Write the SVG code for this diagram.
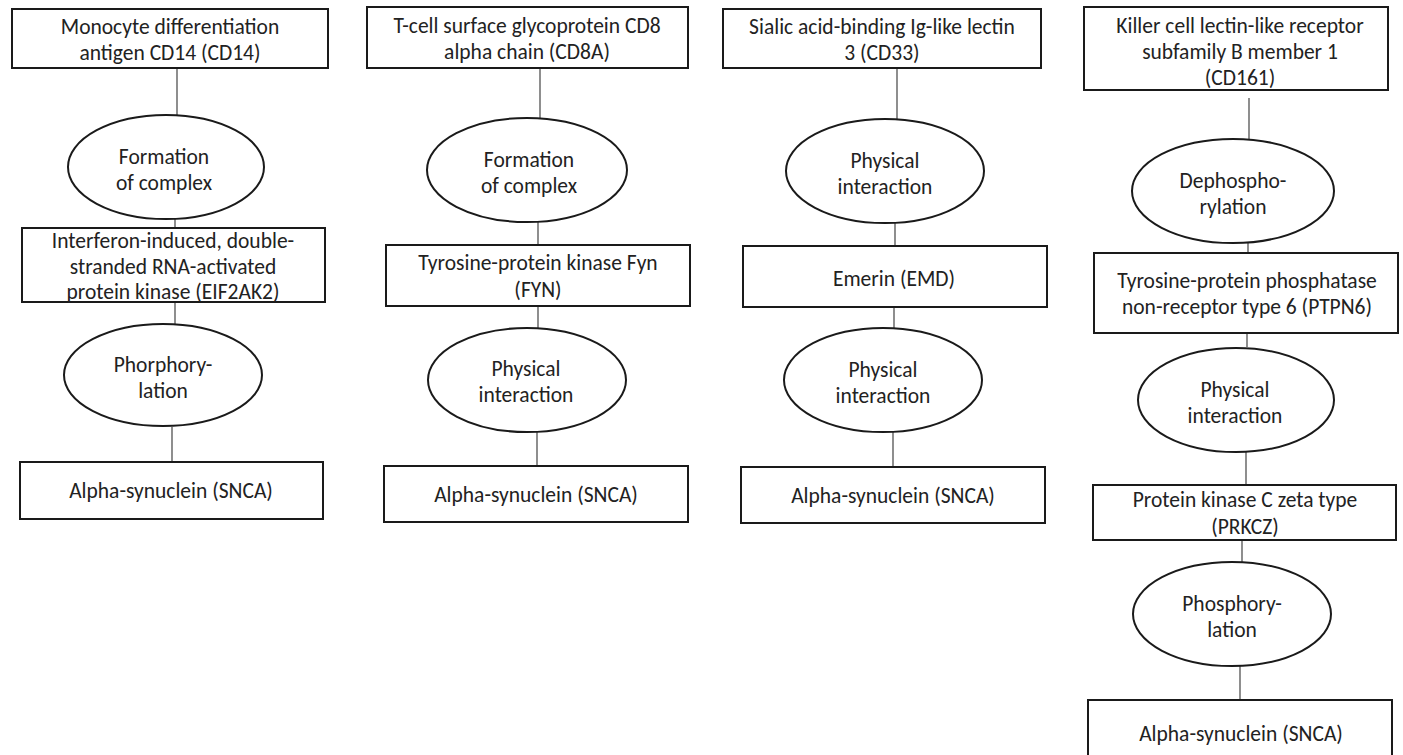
<svg xmlns="http://www.w3.org/2000/svg" width="1403" height="755" viewBox="0 0 1403 755">
<style>
.box{fill:#fff;stroke:#1a1a1a;stroke-width:2}
.ell{fill:#fff;stroke:#1a1a1a;stroke-width:2}
.con{stroke:#444;stroke-width:1.2;fill:none}
text{font-family:Calibri,Carlito,"Liberation Sans",Arial,sans-serif;font-size:21.5px;fill:#222;text-anchor:middle}
</style>
<rect width="1403" height="755" fill="#fff"/>
<g id="connectors">
<line class="con" x1="177" y1="68" x2="177" y2="115"/>
<line class="con" x1="175" y1="218" x2="175" y2="228"/>
<line class="con" x1="175" y1="302" x2="175" y2="324"/>
<line class="con" x1="172" y1="427" x2="172" y2="462"/>
<line class="con" x1="540" y1="68" x2="540" y2="118"/>
<line class="con" x1="538" y1="222" x2="538" y2="245"/>
<line class="con" x1="538" y1="306" x2="538" y2="328"/>
<line class="con" x1="537" y1="432" x2="537" y2="466"/>
<line class="con" x1="897" y1="68" x2="897" y2="119"/>
<line class="con" x1="895" y1="223" x2="895" y2="246"/>
<line class="con" x1="894" y1="307" x2="894" y2="328"/>
<line class="con" x1="893" y1="432" x2="893" y2="467"/>
<line class="con" x1="1249" y1="98" x2="1249" y2="139"/>
<line class="con" x1="1248" y1="243" x2="1248" y2="253"/>
<line class="con" x1="1247" y1="333" x2="1247" y2="347"/>
<line class="con" x1="1246" y1="452" x2="1246" y2="485"/>
<line class="con" x1="1242" y1="540" x2="1242" y2="562"/>
<line class="con" x1="1240" y1="666" x2="1240" y2="700"/>
</g>
<!-- Column 1 -->
<g id="cd14">
<rect class="box" x="12" y="9" width="316" height="59"/>
<text x="170" y="34">Monocyte differentiation</text>
<text x="170" y="60">antigen CD14 (CD14)</text>
</g>
<g id="c1-complex">
<ellipse class="ell" cx="166" cy="167" rx="98" ry="52"/>
<text x="164" y="164">Formation</text>
<text x="164" y="190">of complex</text>
</g>
<g id="eif2ak2">
<rect class="box" x="22" y="228" width="303" height="74"/>
<text x="173" y="248">Interferon-induced, double-</text>
<text x="173" y="274">stranded RNA-activated</text>
<text x="173" y="299">protein kinase (EIF2AK2)</text>
</g>
<g id="c1-phos">
<ellipse class="ell" cx="163" cy="375" rx="99" ry="51"/>
<text x="163" y="372">Phorphory-</text>
<text x="163" y="398">lation</text>
</g>
<g id="c1-snca">
<rect class="box" x="20" y="462" width="303" height="57"/>
<text x="171" y="498">Alpha-synuclein (SNCA)</text>
</g>
<!-- Column 2 -->
<g id="cd8a">
<rect class="box" x="367" y="7" width="321" height="61"/>
<text x="527" y="33">T-cell surface glycoprotein CD8</text>
<text x="527" y="59">alpha chain (CD8A)</text>
</g>
<g id="c2-complex">
<ellipse class="ell" cx="527" cy="170" rx="100" ry="52"/>
<text x="529" y="167">Formation</text>
<text x="529" y="193">of complex</text>
</g>
<g id="fyn">
<rect class="box" x="386" y="245" width="304" height="61"/>
<text x="538" y="270">Tyrosine-protein kinase Fyn</text>
<text x="538" y="297">(FYN)</text>
</g>
<g id="c2-phys">
<ellipse class="ell" cx="527" cy="380" rx="99" ry="52"/>
<text x="526" y="376">Physical</text>
<text x="526" y="402">interaction</text>
</g>
<g id="c2-snca">
<rect class="box" x="384" y="466" width="304" height="56"/>
<text x="536" y="502">Alpha-synuclein (SNCA)</text>
</g>
<!-- Column 3 -->
<g id="cd33">
<rect class="box" x="723" y="9" width="318" height="59"/>
<text x="882" y="34">Sialic acid-binding Ig-like lectin</text>
<text x="882" y="60">3 (CD33)</text>
</g>
<g id="c3-phys1">
<ellipse class="ell" cx="885" cy="171" rx="99" ry="52"/>
<text x="885" y="168">Physical</text>
<text x="885" y="194">interaction</text>
</g>
<g id="emd">
<rect class="box" x="743" y="246" width="304" height="61"/>
<text x="894" y="286">Emerin (EMD)</text>
</g>
<g id="c3-phys2">
<ellipse class="ell" cx="883" cy="380" rx="99" ry="52"/>
<text x="883" y="377">Physical</text>
<text x="883" y="403">interaction</text>
</g>
<g id="c3-snca">
<rect class="box" x="741" y="467" width="304" height="56"/>
<text x="893" y="503">Alpha-synuclein (SNCA)</text>
</g>
<!-- Column 4 -->
<g id="cd161">
<rect class="box" x="1084" y="7" width="304" height="83"/>
<text x="1240" y="33">Killer cell lectin-like receptor</text>
<text x="1240" y="59">subfamily B member 1</text>
<text x="1240" y="85">(CD161)</text>
</g>
<g id="c4-dephos">
<ellipse class="ell" cx="1233" cy="191" rx="101" ry="52"/>
<text x="1233" y="188">Dephospho-</text>
<text x="1233" y="214">rylation</text>
</g>
<g id="ptpn6">
<rect class="box" x="1094" y="253" width="304" height="80"/>
<text x="1247" y="288">Tyrosine-protein phosphatase</text>
<text x="1247" y="314">non-receptor type 6 (PTPN6)</text>
</g>
<g id="c4-phys">
<ellipse class="ell" cx="1236" cy="400" rx="98" ry="52"/>
<text x="1235" y="397">Physical</text>
<text x="1235" y="423">interaction</text>
</g>
<g id="prkcz">
<rect class="box" x="1093" y="485" width="303" height="55"/>
<text x="1245" y="507">Protein kinase C zeta type</text>
<text x="1245" y="534">(PRKCZ)</text>
</g>
<g id="c4-phos">
<ellipse class="ell" cx="1232" cy="614" rx="99" ry="52"/>
<text x="1232" y="611">Phosphory-</text>
<text x="1232" y="637">lation</text>
</g>
<g id="c4-snca">
<rect class="box" x="1088" y="700" width="304" height="58"/>
<text x="1241" y="741">Alpha-synuclein (SNCA)</text>
</g>
</svg>
